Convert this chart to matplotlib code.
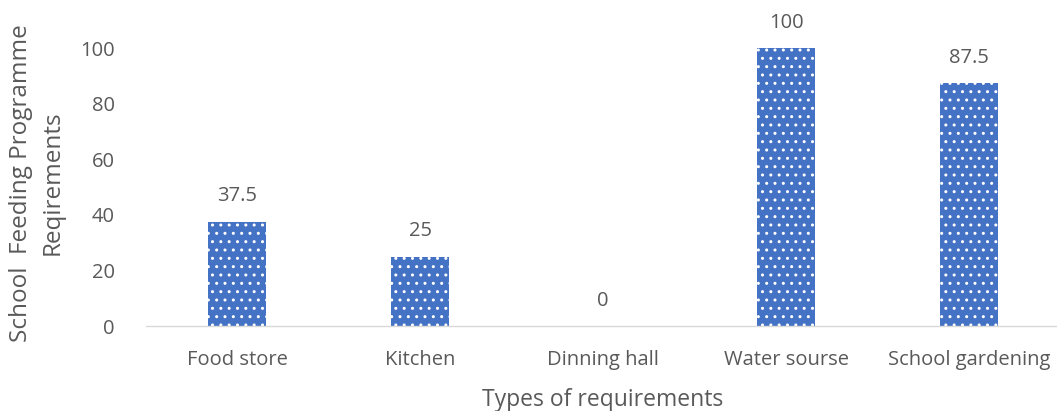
import matplotlib
matplotlib.use("Agg")
import matplotlib.pyplot as plt

# Requirement categories and their percentages
categories = ["Food store", "Kitchen", "Dinning hall", "Water sourse", "School gardening"]
values = [37.5, 25, 0, 100, 87.5]
value_labels = ["37.5", "25", "0", "100", "87.5"]
yticks = [0, 20, 40, 60, 80, 100]

grey = "#595959"
plt.rcParams["font.family"] = ["Open Sans", "DejaVu Sans"]
plt.rcParams["hatch.linewidth"] = 1.0

fig = plt.figure(figsize=(10.57, 4.11), dpi=100)
ax = fig.add_axes([0.1377, 0.2068, 0.8657, 0.7932])

x = range(len(categories))
ax.bar(x, values, width=0.32, color="#4472C4", edgecolor="white",
       linewidth=0, hatch="..", zorder=2)

for xi, v, lab in zip(x, values, value_labels):
    ax.text(xi, v + 5.5, lab, ha="center", va="bottom", fontsize=14.5, color=grey)

ax.set_xlim(-0.5, len(categories) - 0.5)
ax.set_ylim(0, 117.3)
ax.set_yticks(yticks)
ax.set_xticks(list(x))
ax.set_xticklabels(categories)
ax.tick_params(axis="both", length=0, labelsize=14.5, labelcolor=grey)
ax.tick_params(axis="x", pad=17)
ax.tick_params(axis="y", pad=22)

for s in ["top", "right", "left"]:
    ax.spines[s].set_visible(False)
ax.spines["bottom"].set_color("#D9D9D9")
ax.spines["bottom"].set_linewidth(1)

ax.set_xlabel("Types of requirements", fontsize=16.5, color=grey, labelpad=13)

# two-line y title placed in figure coordinates
fig.text(0.035, 0.555, "School  Feeding Programme\nReqirements", rotation=90,
         ha="center", va="center", multialignment="center",
         fontsize=17.5, color=grey, linespacing=1.4)

fig.savefig("out.png", dpi=100)
